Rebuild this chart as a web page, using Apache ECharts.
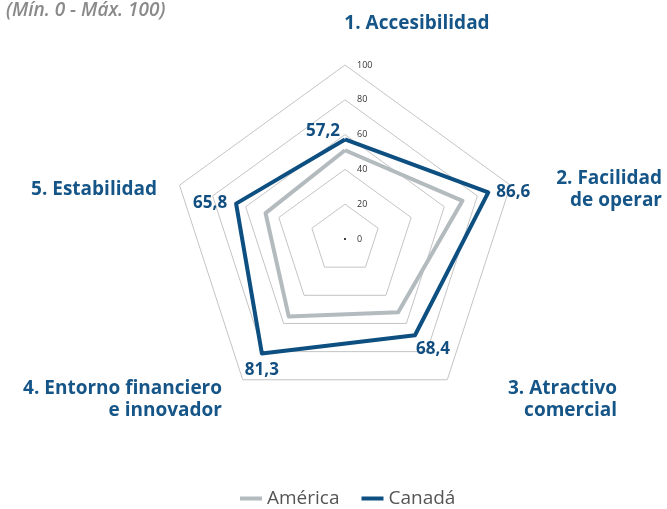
<!DOCTYPE html>
<html>
	<head>
		<meta charset="utf-8" />
		<title>Radar Canadá vs América</title>
		<script src="https://cdn.jsdelivr.net/npm/echarts@6/dist/echarts.min.js"></script>
		<style>
			html, body { margin: 0; padding: 0; background: #fff; }
		</style>
	</head>

	<body>
		<div id="main" style="width: 667px;height:509px;"></div>
		<script type="text/javascript">
			// datos del gráfico
			var categorias = ['1. Accesibilidad', '2. Facilidad\nde operar', '3. Atractivo\ncomercial', '4. Entorno financiero\ne innovador', '5. Estabilidad'];
			var america = [51, 71, 52, 55, 48];
			var canada = [57.2, 86.6, 68.4, 81.3, 65.8];
			var escala = [0, 20, 40, 60, 80, 100];
			var subtitulo = '(Mín. 0 - Máx. 100)';

			var azul = '#0c4f80';
			var gris = '#b3bbbf';
			var fuente = '"Open Sans", "Noto Sans", sans-serif';
			var centro = [345, 239];
			var radio = 174;

			// el radar de echarts va en sentido antihorario, invertimos el orden
			var orden = [0, 4, 3, 2, 1];
			function reordenar(arr) {
				return orden.map(function (i) { return arr[i]; });
			}

			// posición de cada nombre de eje (texto, no marcas)
			var posNombres = [
				{ x: 417, y: 24, align: 'center' },
				{ x: 662, y: 190, align: 'right' },
				{ x: 617, y: 400, align: 'right' },
				{ x: 222, y: 400, align: 'right' },
				{ x: 157, y: 190, align: 'right' }
			];
			// colocación de las etiquetas de Canadá
			var posEtiquetas = [
				{ position: 'left', distance: 5, offset: [0, -8] },
				{ position: 'right', distance: 8, offset: [0, 0] },
				{ position: 'bottom', distance: 5, offset: [18, 0] },
				{ position: 'bottom', distance: 8, offset: [0, 0] },
				{ position: 'left', distance: 9, offset: [0, 0] }
			];

			var myChart = echarts.init(document.getElementById('main'));

			var graficos = categorias.map(function (c, i) {
				return {
					type: 'text',
					x: posNombres[i].x,
					y: posNombres[i].y,
					style: {
						text: c,
						fill: '#155587',
						font: 'bold 19px ' + fuente,
						textAlign: posNombres[i].align,
						textVerticalAlign: 'middle',
						lineHeight: 22
					}
				};
			});
			graficos.push({
				type: 'text',
				x: 6,
				y: 11,
				style: {
					text: subtitulo,
					fill: '#8a8a8a',
					font: 'italic 600 19px ' + fuente,
					textVerticalAlign: 'middle'
				}
			});

			var etiquetasCanada = canada.map(function (v, i) {
				return {
					value: [v, i],
					label: {
						show: true,
						position: posEtiquetas[i].position,
						distance: posEtiquetas[i].distance,
						offset: posEtiquetas[i].offset
					}
				};
			});

			var option = {
				animation: false,
				textStyle: { fontFamily: fuente },
				graphic: graficos,
				legend: {
					top: 484,
					left: 235,
					icon: 'rect',
					itemWidth: 22,
					itemHeight: 4,
					itemGap: 22,
					textStyle: { fontSize: 19, color: '#555', fontFamily: fuente },
					data: ['América', 'Canadá']
				},
				radar: {
					center: centro,
					radius: radio,
					shape: 'polygon',
					splitNumber: 5,
					startAngle: 90,
					indicator: reordenar(categorias).map(function (c) {
						return { name: c, min: 0, max: 100 };
					}),
					axisName: { show: false },
					axisLine: { show: false },
					axisTick: { show: false },
					splitArea: { show: false },
					splitLine: { lineStyle: { color: '#c4c4c4', width: 1 } }
				},
				// sistema polar superpuesto solo para las marcas de escala y etiquetas
				polar: { center: centro, radius: radio },
				angleAxis: {
					type: 'category',
					data: categorias,
					startAngle: 90,
					clockwise: true,
					boundaryGap: false,
					axisLine: { show: false },
					axisTick: { show: false },
					axisLabel: { show: false },
					splitLine: { show: false }
				},
				radiusAxis: {
					min: 0,
					max: 100,
					interval: 20,
					axisLine: { show: false },
					axisTick: { show: false },
					splitLine: { show: false },
					axisLabel: {
						fontSize: 9,
						color: '#333',
						margin: -12,
						align: 'left',
						formatter: function (v) { return escala.indexOf(v) >= 0 ? String(v) : ''; }
					}
				},
				series: [
					{
						name: 'América',
						type: 'radar',
						symbol: 'none',
						itemStyle: { color: gris },
						lineStyle: { color: gris, width: 4 },
						data: [{ name: 'América', value: reordenar(america) }]
					},
					{
						name: 'Canadá',
						type: 'radar',
						symbol: 'none',
						itemStyle: { color: azul },
						lineStyle: { color: azul, width: 4 },
						data: [{ name: 'Canadá', value: reordenar(canada) }]
					},
					{
						name: 'etiquetas',
						type: 'scatter',
						coordinateSystem: 'polar',
						symbolSize: 0,
						silent: true,
						itemStyle: { opacity: 1, color: azul },
						label: {
							color: '#124f80',
							fontSize: 17,
							fontWeight: 'bold',
							fontFamily: fuente,
							formatter: function (p) {
								return p.value[0].toFixed(1).replace('.', ',');
							}
						},
						data: etiquetasCanada
					},
					{
						name: 'centro',
						type: 'scatter',
						coordinateSystem: 'polar',
						symbolSize: 2,
						silent: true,
						itemStyle: { color: '#000', opacity: 1 },
						data: [[0, 0]]
					}
				]
			};
			myChart.setOption(option);
		</script>
	</body>
</html>
